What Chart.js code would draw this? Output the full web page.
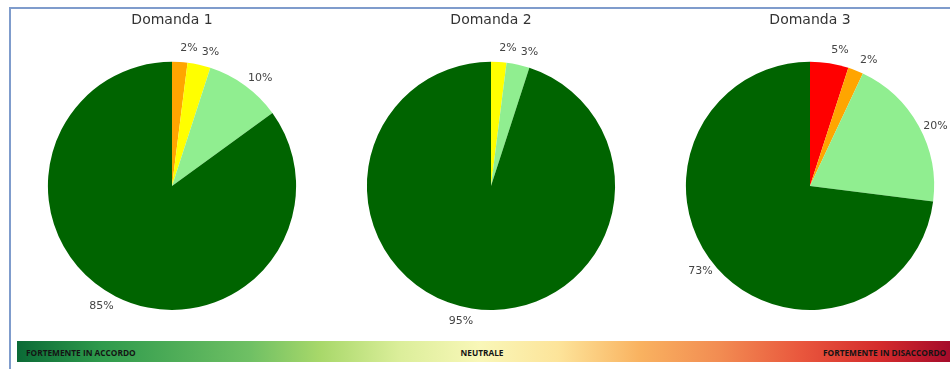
<!DOCTYPE html>
<html>
<head>
<meta charset="utf-8">
<script src="https://cdn.jsdelivr.net/npm/chart.js@4"></script>
<style>
  html, body { margin: 0; padding: 0; background: #fff; overflow: hidden; }
  body { width: 950px; height: 369px; position: relative; }
  .frame { position: absolute; left: 9px; top: 7px; width: 960px; height: 400px;
           border-left: 2px solid #7f9ccc; border-top: 2px solid #7f9ccc; }
  .pie { position: absolute; top: 0; width: 318px; height: 330px; }
  .scale { position: absolute; left: 17px; top: 341px; width: 933px; height: 21px;
           background: linear-gradient(to right, #0b6a36 0%, #2e9a4c 9%, #6fc064 25%, #a8d86a 32.5%,
             #dbee9a 41%, #f9f7b8 49.6%, #fde49a 58%, #f9b260 66.8%, #f28c52 75.3%,
             #e9573d 84%, #d42b2c 92.5%, #a50b2a 100%);
           font-family: "Open Sans", sans-serif; font-weight: 700; font-size: 8.3px; color: #141414; }
  .scale span { position: absolute; top: 50%; transform: translateY(-50%); white-space: nowrap; }
</style>
</head>
<body>
<div class="frame"></div>
<div class="pie" style="left:13px"><canvas id="c1"></canvas></div>
<div class="pie" style="left:332px"><canvas id="c2"></canvas></div>
<div class="pie" style="left:651px"><canvas id="c3"></canvas></div>
<div class="scale">
  <span style="left:9px">FORTEMENTE IN ACCORDO</span>
  <span style="left:465px; transform: translate(-50%,-50%)">NEUTRALE</span>
  <span style="left:806px">FORTEMENTE IN DISACCORDO</span>
</div>
<script>
(() => {
    'use strict'

    // categorie (in senso orario dall'alto)
    const categories = ['Fortemente in disaccordo', 'In disaccordo', 'Neutrale', 'In accordo', 'Fortemente in accordo'];
    const colors = ['#ff0000', '#ffa500', '#ffff00', '#90ee90', '#006400'];

    const titles = ['Domanda 1', 'Domanda 2', 'Domanda 3'];
    const domanda1 = [0, 2, 3, 10, 85];
    const domanda2 = [0, 0, 2, 3, 95];
    const domanda3 = [5, 2, 0, 20, 73];

    // etichette percentuali fuori dalla torta
    const pctLabels = {
        id: 'pctLabels',
        afterDraw(chart) {
            const ctx = chart.ctx;
            const meta = chart.getDatasetMeta(0);
            const values = chart.data.datasets[0].data;
            ctx.save();
            ctx.font = '11px "DejaVu Sans"';
            ctx.fillStyle = '#444';
            ctx.textAlign = 'center';
            ctx.textBaseline = 'middle';
            meta.data.forEach((arc, i) => {
                if (!values[i]) return;
                const p = arc.getProps(['x', 'y', 'startAngle', 'endAngle', 'outerRadius'], true);
                const mid = (p.startAngle + p.endAngle) / 2 + 0.06;
                const r = p.outerRadius * 1.12;
                ctx.fillText(values[i] + '%', p.x + Math.cos(mid) * r, p.y + Math.sin(mid) * r);
            });
            ctx.restore();
        }
    };

    function drawPie(id, title, values) {
        new Chart(document.getElementById(id), {
            type: 'pie',
            data: {
                labels: categories,
                datasets: [{
                    data: values,
                    backgroundColor: colors,
                    borderWidth: 0
                }]
            },
            options: {
                responsive: true,
                maintainAspectRatio: false,
                animation: false,
                layout: { padding: { top: 0, bottom: 20, left: 20, right: 20 } },
                plugins: {
                    legend: { display: false },
                    tooltip: { enabled: false },
                    title: {
                        display: true,
                        text: title,
                        color: '#333',
                        font: { family: '"DejaVu Sans"', size: 14, weight: 'normal' },
                        padding: { top: 12, bottom: 33 }
                    }
                }
            },
            plugins: [pctLabels]
        });
    }

    drawPie('c1', titles[0], domanda1);
    drawPie('c2', titles[1], domanda2);
    drawPie('c3', titles[2], domanda3);
})();
</script>
</body>
</html>
